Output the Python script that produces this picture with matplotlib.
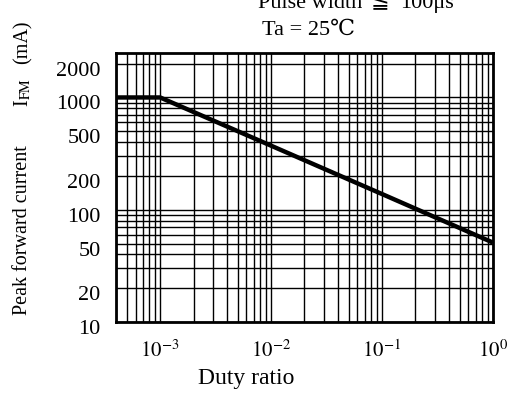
import matplotlib
matplotlib.use("Agg")
import matplotlib.pyplot as plt
import matplotlib.transforms as mtransforms
from matplotlib.ticker import LogLocator, FixedLocator, NullFormatter

# values
duty = [4e-4, 1e-3, 1e-2, 1e-1, 1.0]
current = [1000, 1000, 372, 138, 51]

y_ticks = [10, 20, 50, 100, 200, 500, 1000, 2000]
x_ticks = [1e-3, 1e-2, 1e-1, 1e0]
x_labels = ["$10^{-3}$", "$10^{-2}$", "$10^{-1}$", "$10^{0}$"]

plt.rcParams["font.family"] = ["Liberation Serif", "DejaVu Serif", "DejaVu Sans",
                               "Noto Sans CJK JP"]
plt.rcParams["mathtext.fontset"] = "stix"


def main():
    fig = plt.figure(figsize=(5.10, 4.03), dpi=100)
    ax = fig.add_axes([0.2275, 0.201, 0.739, 0.668])

    ax.plot(duty, current, color="black", linewidth=3.2, solid_capstyle="butt")

    ax.set_xscale("log")
    ax.set_yscale("log")
    ax.set_xlim(4e-4, 1.0)
    ax.set_ylim(10, 2500)

    ax.xaxis.set_major_locator(FixedLocator(x_ticks))
    ax.set_xticklabels(x_labels)
    ax.xaxis.set_minor_locator(LogLocator(base=10, subs=range(2, 10)))
    ax.xaxis.set_minor_formatter(NullFormatter())

    ax.yaxis.set_major_locator(FixedLocator(y_ticks))
    ax.set_yticklabels([str(v) for v in y_ticks])
    ax.yaxis.set_minor_locator(LogLocator(base=10, subs=range(1, 10)))
    ax.yaxis.set_minor_formatter(NullFormatter())

    ax.grid(True, which="both", color="black", linewidth=1.0)
    ax.tick_params(which="both", length=0)
    ax.tick_params(axis="x", pad=13, labelsize=15)
    ax.tick_params(axis="y", pad=11, labelsize=16)
    # the scanned labels sit a little below their grid lines
    shift = mtransforms.ScaledTranslation(0, -5 / 100, fig.dpi_scale_trans)
    for lab in ax.get_yticklabels():
        lab.set_transform(lab.get_transform() + shift)
    for s in ax.spines.values():
        s.set_linewidth(2.0)

    fig.text(0.482, 0.062, "Duty ratio", ha="center", va="center", fontsize=17)
    fig.text(0.045, 0.43, "Peak forward current", rotation=90,
             ha="center", va="center", fontsize=14.5)
    fig.text(0.045, 0.77, "I$_{\\rm FM}$", rotation=90,
             ha="center", va="center", fontsize=14.5)
    fig.text(0.045, 0.895, "(mA)", rotation=90,
             ha="center", va="center", fontsize=14.5)

    fig.text(0.506, 0.981, "Pulse width", ha="left", va="baseline", fontsize=16)
    fig.text(0.745, 0.981, "\u2266", ha="center", va="baseline", fontsize=16)
    fig.text(0.784, 0.981, "100\u03bcs", ha="left", va="baseline", fontsize=16)
    fig.text(0.514, 0.913, "Ta = 25\u2103", ha="left", va="baseline", fontsize=16)

    fig.savefig("out.png", dpi=100)


if __name__ == "__main__":
    main()
